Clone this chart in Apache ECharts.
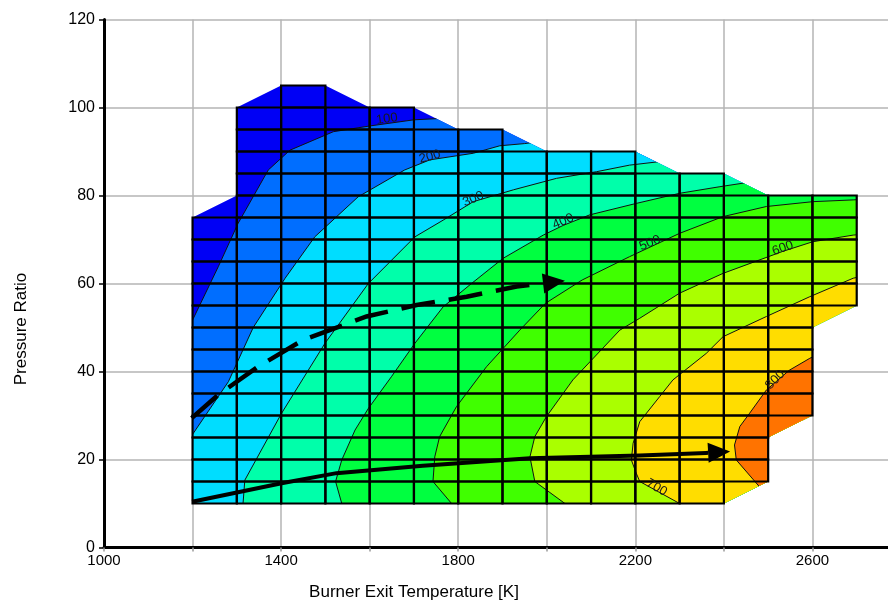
<!DOCTYPE html>
<html>
<head>
<meta charset="utf-8">
<script src="https://cdn.jsdelivr.net/npm/echarts@6/dist/echarts.min.js"></script>
<style>
  html, body { margin: 0; padding: 0; background: #fff; }
  #chart { width: 888px; height: 603px; }
</style>
</head>
<body>
<div id="chart"></div>
<script>
// operating grid: lowest / highest pressure ratio at each temperature node
var temps = [1200, 1300, 1400, 1500, 1600, 1700, 1800, 1900, 2000, 2100, 2200, 2300, 2400, 2500, 2600, 2700];
var prMin = [10, 10, 10, 10, 10, 10, 10, 10, 10, 10, 10, 10, 10, 15, 30, 55];
var prMax = [75, 100, 105, 105, 100, 100, 95, 95, 90, 90, 90, 85, 85, 80, 80, 80];
var prStep = 5;

// iso-lines, [T, PR], from the low/left end to the upper/right end
var levels = [100, 200, 300, 400, 500, 600, 700, 800];
var iso100 = [[1190, 49.8], [1202, 52.1], [1258, 63.8], [1303, 73.7], [1371, 85.8], [1420, 90.3], [1518, 94.5], [1600, 95.8], [1700, 97.2], [1758, 97.5], [1800, 98]];
var iso200 = [[1190, 24.2], [1202, 26], [1281, 37.7], [1337, 50], [1409, 61.2], [1476, 70.6], [1574, 79.7], [1679, 85.8], [1736, 88.1], [1834, 89.6], [1894, 91.3], [1950, 91.8], [2010, 92.6]];
var iso300 = [[1312, 8], [1314, 10], [1318, 15.3], [1401, 30.5], [1499, 46.4], [1597, 60], [1702, 70.6], [1766, 74.4], [1834, 78.6], [1925, 81.3], [2022, 83.9], [2112, 85.4], [2187, 86.9], [2255, 87.7], [2300, 88.6]];
var iso400 = [[1543, 8], [1537, 10], [1523, 15], [1537, 19.9], [1567, 26.7], [1597, 31.6], [1649, 38.8], [1702, 46.4], [1766, 54.7], [1830, 60], [1901, 65.7], [1992, 71], [2037, 73.2], [2097, 75.6], [2202, 78.2], [2300, 80.5], [2391, 82], [2443, 82.8], [2500, 83.6]];
var iso500 = [[1802, 8], [1785, 10], [1743, 15], [1747, 20.6], [1758, 25.2], [1796, 32], [1864, 41.1], [1939, 49.4], [1997, 55.5], [2080, 60.8], [2187, 66.1], [2300, 71.4], [2398, 75.2], [2496, 77.5], [2601, 78.6], [2692, 79], [2750, 79.3]];
var iso600 = [[2068, 8], [2041, 10], [1973, 15], [1962, 20.6], [1973, 25.2], [1999, 29.7], [2059, 38.1], [2165, 49.4], [2210, 52.1], [2300, 57.8], [2398, 62.3], [2533, 67.3], [2601, 69.5], [2692, 71], [2750, 71.5]];
var iso700 = [[2336, 8], [2300, 10], [2210, 15], [2202, 16.9], [2191, 19.9], [2195, 23.7], [2210, 28.6], [2255, 34.3], [2285, 38.1], [2360, 44.1], [2398, 47.9], [2496, 52.5], [2594, 57], [2692, 61.2], [2750, 62.5]];
var iso800 = [[2492, 12.5], [2477, 14.2], [2428, 19.9], [2424, 23.3], [2436, 27.5], [2458, 30.5], [2496, 35.8], [2548, 40.3], [2594, 43], [2625, 44.5]];
var isoLines = [iso100, iso200, iso300, iso400, iso500, iso600, iso700, iso800];

// band colours: below 100, then above each level
var bandColors = ['#0000f5', '#006eff', '#00ddff', '#00ffaa', '#00ff40', '#40ff00', '#aaff00', '#ffdd00', '#ff7300'];

// contour labels [T, PR, angle deg]
var isoLabels = [[1639, 97.4, 8], [1736, 88.8, 15], [1834, 79.2, 23], [2037, 74.1, 23], [2233, 69.2, 22], [2533, 68.0, 19], [2248, 13.6, -30], [2516, 38.1, 45]];

// the two operating paths
var pathDashed = [[1198, 29.4], [1258, 34.7], [1348, 41.1], [1450, 47.2], [1593, 52.5], [1706, 55.1], [1819, 57], [1932, 59.3], [2041, 60.6]];
var pathSolid = [[1199, 10.4], [1401, 14.6], [1525, 16.9], [1720, 18.6], [1962, 20.3], [2210, 20.9], [2360, 21.5], [2414, 21.8]];

// ---- derived shapes ----
var cells = [];
var outlineBottom = [], outlineTop = [];
for (var c = 0; c < temps.length - 1; c++) {
  var t0 = temps[c], t1 = temps[c + 1];
  var lo = Math.max(prMin[c], prMin[c + 1]);
  var hi = Math.min(prMax[c], prMax[c + 1]);
  for (var p = lo; p < hi; p += prStep) cells.push([t0, t1, p, p + prStep]);
  outlineBottom.push([t0, prMin[c] < prMin[c + 1] ? lo - prStep : lo]);
  outlineBottom.push([t1, prMin[c + 1] < prMin[c] ? lo - prStep : lo]);
  outlineTop.unshift([t0, prMax[c] > prMax[c + 1] ? hi + prStep : hi]);
  outlineTop.unshift([t1, prMax[c + 1] > prMax[c] ? hi + prStep : hi]);
}
var outline = outlineBottom.concat(outlineTop);

function toPx(api, pts) {
  return pts.map(function (q) { return api.coord(q); });
}
function clipFor(api) {
  return { type: 'polygon', shape: { points: toPx(api, outline) } };
}

function renderBand(params, api) {
  var i = params.dataIndex;
  var pts;
  if (i === 0) {
    pts = [[900, -40], [3200, -40], [3200, 160], [900, 160]];
  } else {
    var line = isoLines[i - 1];
    var first = line[0], last = line[line.length - 1];
    pts = line.concat([[3200, last[1]], [3200, -40], [first[0], -40]]);
  }
  return {
    type: 'polygon',
    shape: { points: toPx(api, pts) },
    style: { fill: bandColors[i], stroke: null },
    clipPath: clipFor(api)
  };
}

function renderIso(params, api) {
  return {
    type: 'polyline',
    shape: { points: toPx(api, isoLines[params.dataIndex]) },
    style: { stroke: '#111', lineWidth: 1, fill: null },
    clipPath: clipFor(api)
  };
}

function renderCell(params, api) {
  var a = api.coord([api.value(0), api.value(3)]);
  var b = api.coord([api.value(1), api.value(2)]);
  return {
    type: 'rect',
    shape: { x: a[0], y: a[1], width: b[0] - a[0], height: b[1] - a[1] },
    style: { fill: null, stroke: '#000', lineWidth: 2.2 }
  };
}

function renderLabel(params, api) {
  var pt = api.coord([api.value(0), api.value(1)]);
  return {
    type: 'text',
    x: pt[0], y: pt[1],
    rotation: api.value(2) * Math.PI / 180,
    style: {
      text: String(levels[params.dataIndex]),
      font: '13px "Liberation Sans", Arial, sans-serif',
      fill: '#1a1a1a', align: 'center', verticalAlign: 'middle'
    }
  };
}

var arrowList = [
  { pts: pathDashed, dash: [34, 14] },
  { pts: pathSolid, dash: null }
];
function renderArrow(params, api) {
  var a = arrowList[params.dataIndex];
  var pts = toPx(api, a.pts);
  var n = pts.length, tip = pts[n - 1], prev = pts[n - 2];
  var dx = tip[0] - prev[0], dy = tip[1] - prev[1];
  var len = Math.sqrt(dx * dx + dy * dy);
  var ux = dx / len, uy = dy / len;
  var hl = 22, hw = 10;
  var base = [tip[0] - ux * hl, tip[1] - uy * hl];
  var body = pts.slice(0, n - 1).concat([base]);
  return {
    type: 'group',
    children: [{
      type: 'polyline',
      shape: { points: body },
      style: { stroke: '#000', lineWidth: a.dash ? 4.5 : 4, fill: null, lineDash: a.dash, lineCap: 'butt' }
    }, {
      type: 'polygon',
      shape: { points: [tip, [base[0] - uy * hw, base[1] + ux * hw], [base[0] + uy * hw, base[1] - ux * hw]] },
      style: { fill: '#000', stroke: null }
    }]
  };
}

var chart = echarts.init(document.getElementById('chart'), null, { renderer: 'canvas' });
chart.setOption({
  animation: false,
  backgroundColor: '#fff',
  grid: { left: 104, top: 19.5, width: 797, height: 528, outerBoundsMode: 'none', containLabel: false },
  xAxis: {
    type: 'value', min: 1000, max: 2800, interval: 200,
    axisLine: { lineStyle: { color: '#000', width: 3 } },
    axisTick: { show: true, length: 4, lineStyle: { color: '#999', width: 1.5 } },
    axisLabel: {
      color: '#000', fontSize: 15, fontFamily: 'Liberation Sans, Arial, sans-serif', margin: 6,
      formatter: function (v) { return (v - 1000) % 400 === 0 ? String(v) : ''; }
    },
    splitLine: { show: true, lineStyle: { color: '#b4b4b4', width: 1.5 } }
  },
  yAxis: {
    type: 'value', min: 0, max: 120, interval: 20,
    axisLine: { show: true, lineStyle: { color: '#000', width: 3 } },
    axisTick: { show: true, length: 5, lineStyle: { color: '#000', width: 1.5 } },
    axisLabel: { color: '#000', fontSize: 16, fontFamily: 'Liberation Sans, Arial, sans-serif', margin: 9 },
    splitLine: { show: true, lineStyle: { color: '#b4b4b4', width: 1.5 } }
  },
  graphic: [{
    type: 'text', x: 414, y: 592,
    style: { text: 'Burner Exit Temperature [K]', font: '17px "Liberation Sans", Arial, sans-serif', fill: '#000', align: 'center', verticalAlign: 'middle' }
  }, {
    type: 'text', x: 21, y: 329, rotation: Math.PI / 2,
    style: { text: 'Pressure Ratio', font: '17px "Liberation Sans", Arial, sans-serif', fill: '#000', align: 'center', verticalAlign: 'middle' }
  }],
  series: [{
    type: 'custom', z: 2, clip: false,
    renderItem: renderBand,
    data: bandColors.map(function (col, i) { return [i]; })
  }, {
    type: 'custom', z: 3, clip: false,
    renderItem: renderIso,
    data: isoLines.map(function (l, i) { return [i]; })
  }, {
    type: 'custom', z: 4, clip: false,
    renderItem: renderCell,
    data: cells
  }, {
    type: 'custom', z: 5, clip: false,
    renderItem: renderLabel,
    data: isoLabels
  }, {
    type: 'custom', z: 6, clip: false,
    renderItem: renderArrow,
    data: arrowList.map(function (a, i) { return [i]; })
  }]
});
</script>
</body>
</html>
